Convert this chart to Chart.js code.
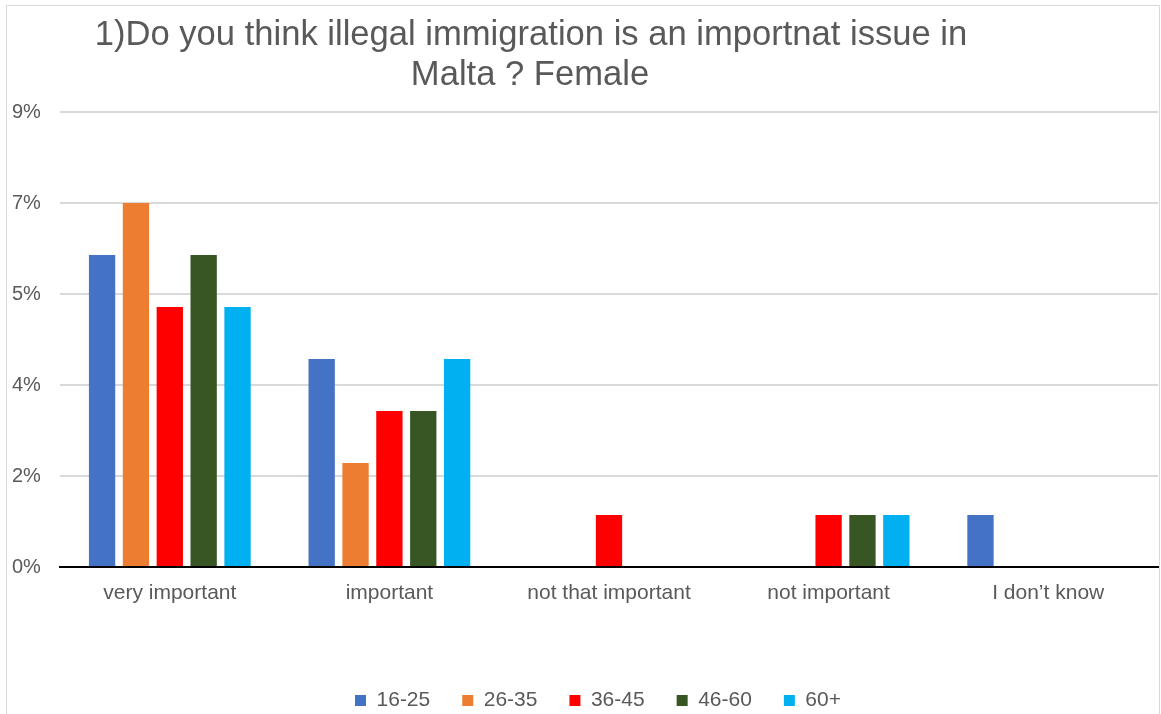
<!DOCTYPE html>
<html>
<head>
<meta charset="utf-8">
<script src="https://cdn.jsdelivr.net/npm/chart.js@4/dist/chart.umd.min.js"></script>
<style>
  html, body { margin: 0; padding: 0; background: #fff; overflow: hidden; }
  #frame { position: absolute; left: 6px; top: 5px; width: 1152px; height: 730px; border: 1px solid #d9d9d9; }
  #grafico1 { position: absolute; left: 0; top: 0; }
</style>
</head>
<body>
<div id="frame"></div>
<canvas id="grafico1" width="1161" height="721"></canvas>
<script>
"use strict";

const titleLines = ["1)Do you think illegal immigration is an importnat issue in", "Malta ? Female"];
const categories = ["very important", "important", "not that important", "not important", "I don\u2019t know"];
const ageGroups = ["16-25", "26-35", "36-45", "46-60", "60+"];

// percent values per age group, one entry per category
const age16_25 = [6, 4, 0, 0, 1];
const age26_35 = [7, 2, 0, 0, 0];
const age36_45 = [5, 3, 1, 1, 0];
const age46_60 = [6, 3, 0, 1, 0];
const age60plus = [5, 4, 0, 1, 0];

const yTickValues = [0, 1.75, 3.5, 5.25, 7, 8.75];
const yTickLabels = ["0%", "2%", "4%", "5%", "7%", "9%"];

const colors = ["#4472C4", "#ED7D31", "#FF0000", "#375623", "#00B0F0"];
const seriesValues = [age16_25, age26_35, age36_45, age46_60, age60plus];

Chart.defaults.font.family = '"Liberation Sans", Arial, sans-serif';
Chart.defaults.color = "#595959";

// title drawn by hand so it can sit left of centre like the original
const titlePlugin = {
	id: "titleText",
	afterDraw(chart) {
		const c = chart.ctx;
		c.save();
		c.font = '34.6px "Liberation Sans", Arial, sans-serif';
		c.fillStyle = "#595959";
		c.textAlign = "center";
		c.textBaseline = "alphabetic";
		c.fillText(titleLines[0], 531, 45);
		c.fillText(titleLines[1], 530, 85);
		c.restore();
	},
};

const ctx = document.getElementById("grafico1");

let chart1 = new Chart(ctx, {
	type: "bar",
	data: {
		labels: categories,
		datasets: ageGroups.map((g, i) => ({
			label: g,
			data: seriesValues[i],
			backgroundColor: colors[i],
			borderWidth: 0,
			categoryPercentage: 0.771,
			barPercentage: 0.777,
		})),
	},
	options: {
		responsive: false,
		animation: false,
		layout: {
			// left padding also shifts the legend to where it is in the original
			padding: { top: 112, left: 38, right: 3, bottom: 0 },
		},
		plugins: {
			title: { display: false },
			tooltip: { enabled: false },
			legend: {
				position: "bottom",
				labels: {
					boxWidth: 11,
					boxHeight: 11,
					padding: 32,
					color: "#595959",
					font: { size: 21 },
				},
			},
		},
		scales: {
			x: {
				grid: { display: false, drawTicks: false },
				border: { display: true, color: "#000", width: 2, z: 1 },
				ticks: { padding: 14, color: "#595959", font: { size: 21 } },
				afterFit: (axis) => { axis.height = 91; },
			},
			y: {
				min: 0,
				max: 8.75,
				afterBuildTicks: (axis) => { axis.ticks = yTickValues.map(v => ({ value: v })); },
				afterFit: (axis) => { axis.width = 22; },
				grid: { color: "#d9d9d9", lineWidth: 2, drawTicks: false },
				border: { display: false },
				ticks: {
					mirror: true,
					crossAlign: "far",
					padding: -48,
					color: "#595959",
					font: { size: 20 },
					callback: (value, index) => yTickLabels[index],
				},
			},
		},
	},
	plugins: [titlePlugin],
});
</script>
</body>
</html>
